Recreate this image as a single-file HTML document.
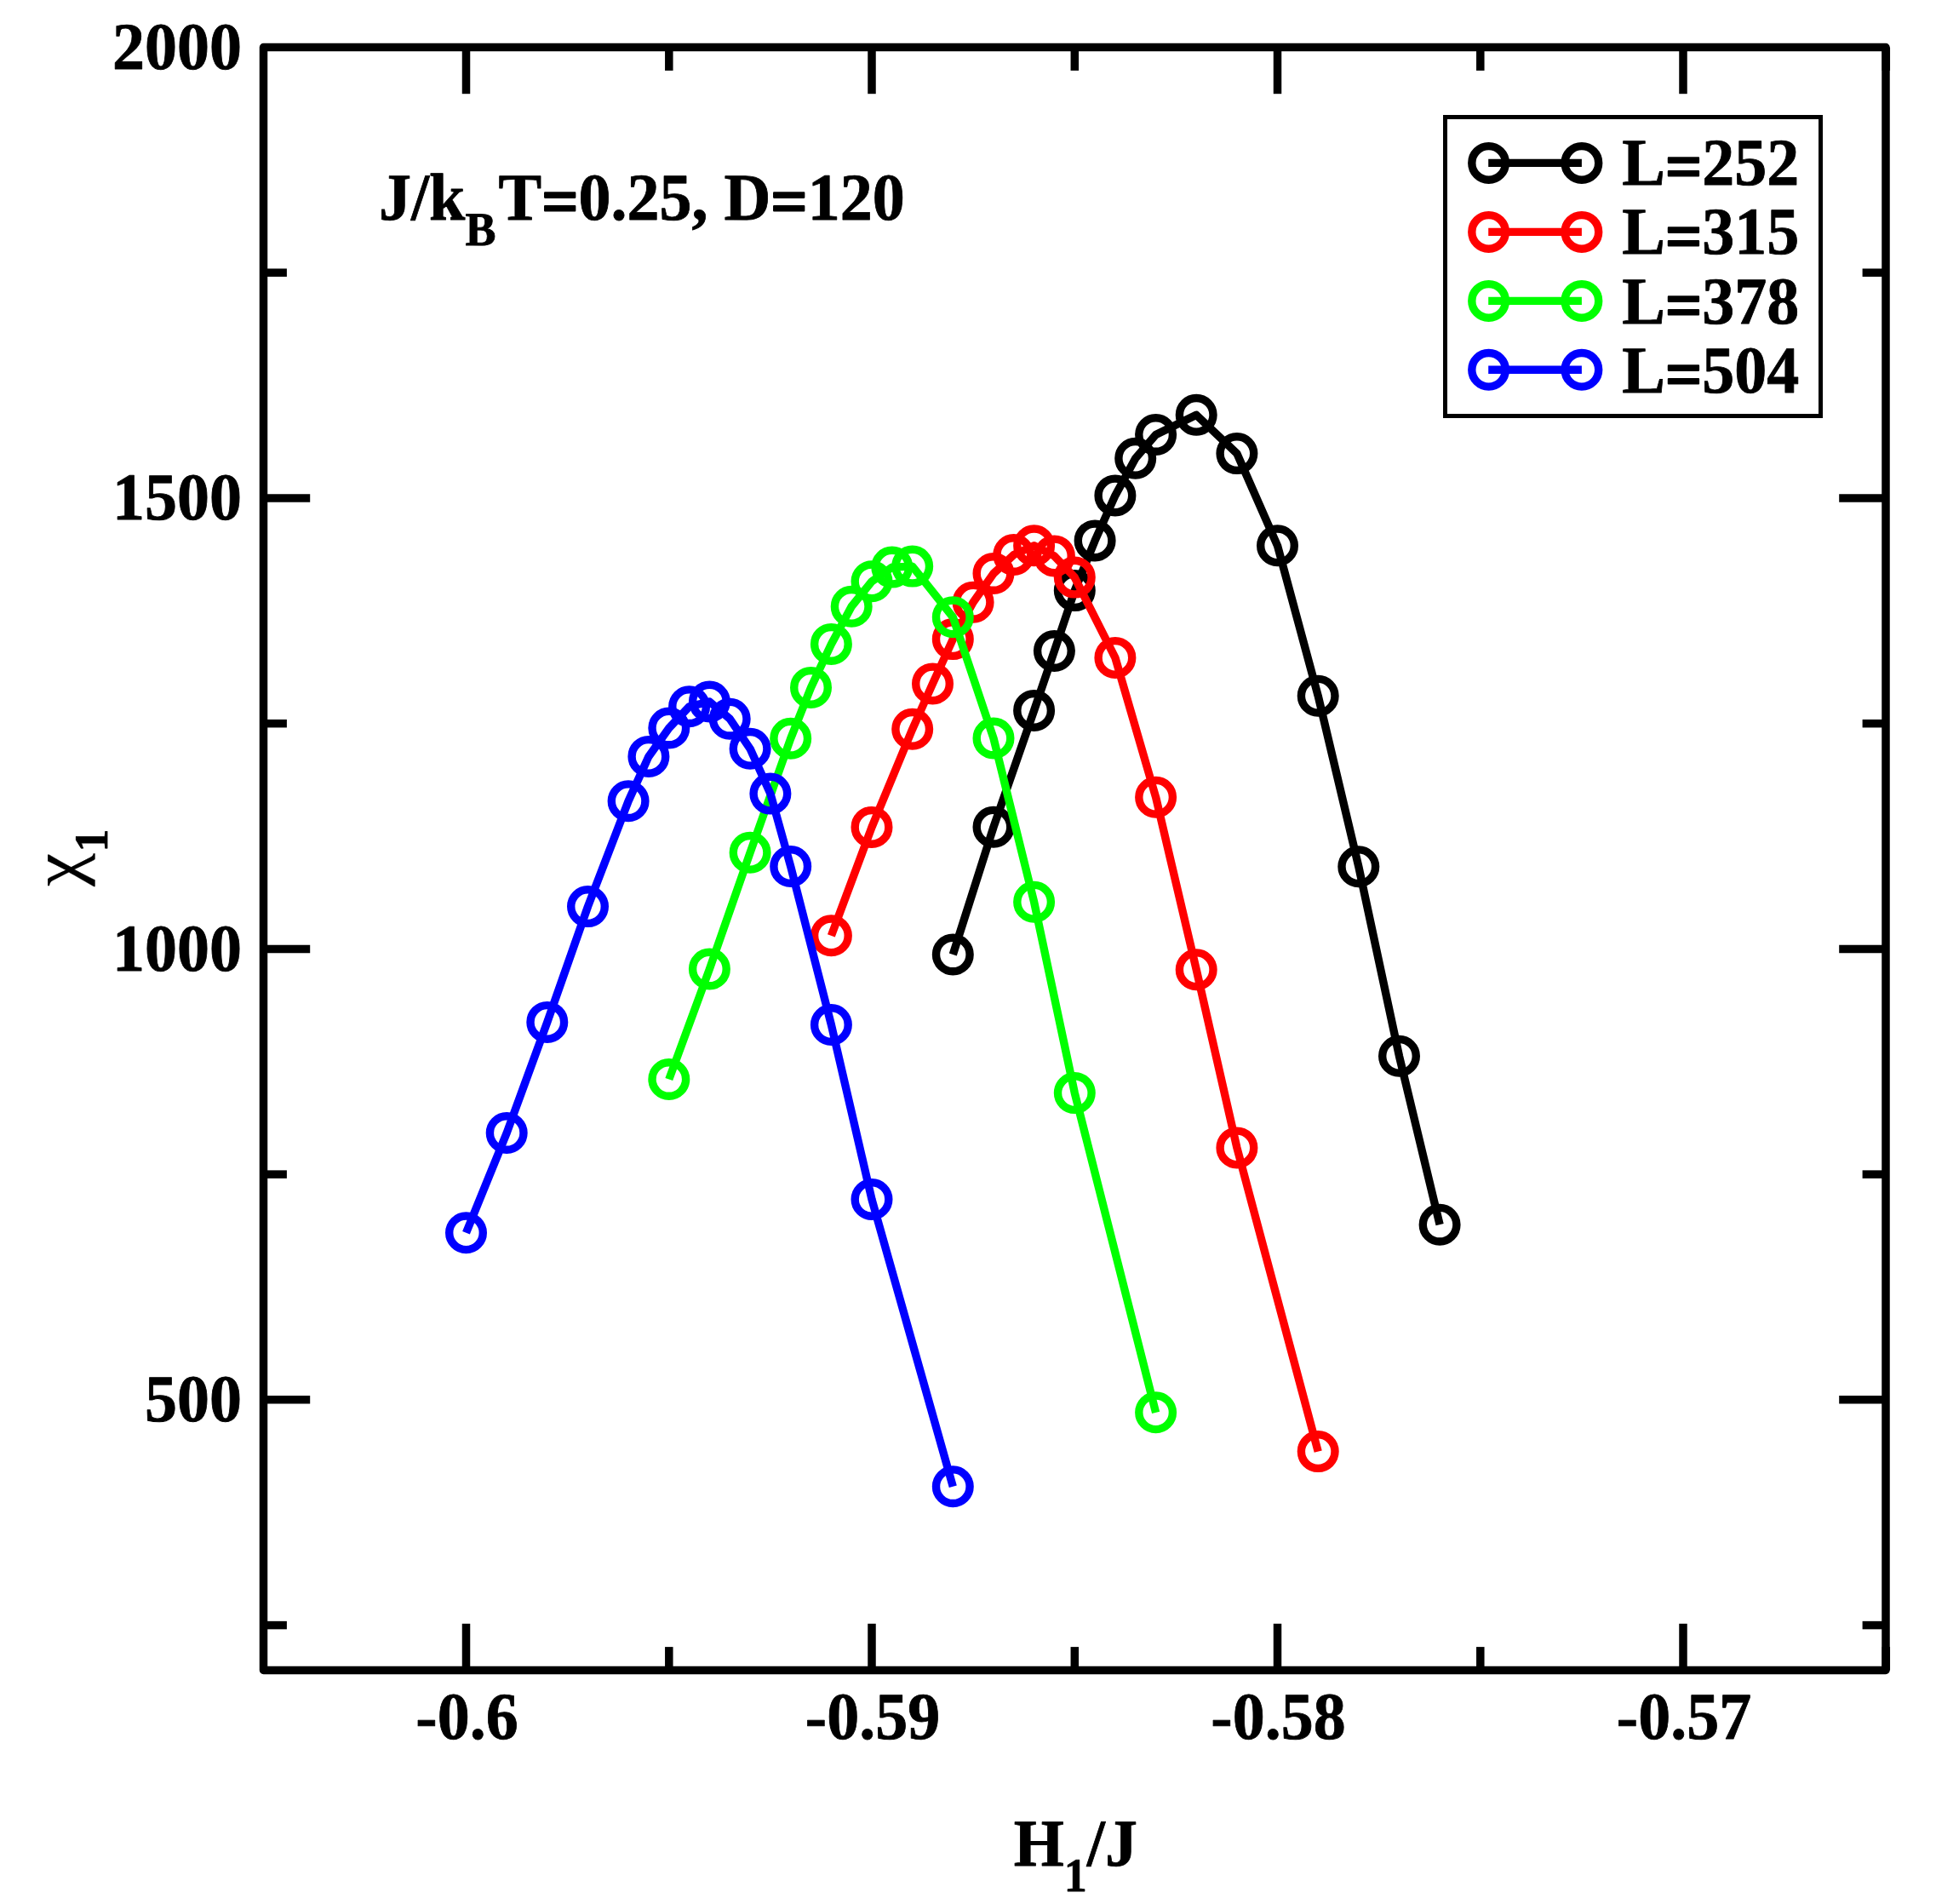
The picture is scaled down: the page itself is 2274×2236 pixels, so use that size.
<!DOCTYPE html>
<html lang="en"><head><meta charset="utf-8"><title>chi1 vs H1/J</title>
<style>html,body{margin:0;padding:0;background:#fff}svg{display:block}text{font-family:"Liberation Serif","DejaVu Serif",serif;font-weight:bold;font-size:76px;fill:#000;stroke:#000;stroke-width:0.8px;stroke-linejoin:round;text-rendering:geometricPrecision}.sub{font-size:54px}.sym{font-weight:normal;stroke-width:0.2px}</style></head><body>
<svg width="2274" height="2236" viewBox="0 0 2274 2236">
<rect x="0" y="0" width="2274" height="2236" fill="#ffffff"/>
<g fill="none" stroke="#000000" stroke-width="9.4" stroke-linejoin="round" stroke-linecap="butt">
<polyline points="1119.3,1121.0 1167.0,971.2 1214.6,834.4 1238.4,764.5 1262.3,693.6 1286.1,634.9 1309.9,581.9 1333.7,538.3 1357.6,510.5 1405.2,487.3 1452.9,532.6 1500.5,640.8 1548.2,817.2 1595.8,1017.7 1643.5,1240.3 1691.1,1438.2"/>
<circle cx="1119.3" cy="1121.0" r="19.8"/>
<circle cx="1167.0" cy="971.2" r="19.8"/>
<circle cx="1214.6" cy="834.4" r="19.8"/>
<circle cx="1238.4" cy="764.5" r="19.8"/>
<circle cx="1262.3" cy="693.6" r="19.8"/>
<circle cx="1286.1" cy="634.9" r="19.8"/>
<circle cx="1309.9" cy="581.9" r="19.8"/>
<circle cx="1333.7" cy="538.3" r="19.8"/>
<circle cx="1357.6" cy="510.5" r="19.8"/>
<circle cx="1405.2" cy="487.3" r="19.8"/>
<circle cx="1452.9" cy="532.6" r="19.8"/>
<circle cx="1500.5" cy="640.8" r="19.8"/>
<circle cx="1548.2" cy="817.2" r="19.8"/>
<circle cx="1595.8" cy="1017.7" r="19.8"/>
<circle cx="1643.5" cy="1240.3" r="19.8"/>
<circle cx="1691.1" cy="1438.2" r="19.8"/>
</g>
<g fill="none" stroke="#ff0000" stroke-width="9.4" stroke-linejoin="round" stroke-linecap="butt">
<polyline points="976.4,1098.8 1024.0,971.4 1071.7,856.3 1095.5,802.9 1119.3,750.6 1143.1,707.2 1167.0,673.5 1190.8,651.5 1214.6,640.8 1238.4,652.9 1262.3,678.1 1309.9,772.4 1357.6,936.2 1405.2,1138.7 1452.9,1347.9 1548.2,1704.6"/>
<circle cx="976.4" cy="1098.8" r="19.8"/>
<circle cx="1024.0" cy="971.4" r="19.8"/>
<circle cx="1071.7" cy="856.3" r="19.8"/>
<circle cx="1095.5" cy="802.9" r="19.8"/>
<circle cx="1119.3" cy="750.6" r="19.8"/>
<circle cx="1143.1" cy="707.2" r="19.8"/>
<circle cx="1167.0" cy="673.5" r="19.8"/>
<circle cx="1190.8" cy="651.5" r="19.8"/>
<circle cx="1214.6" cy="640.8" r="19.8"/>
<circle cx="1238.4" cy="652.9" r="19.8"/>
<circle cx="1262.3" cy="678.1" r="19.8"/>
<circle cx="1309.9" cy="772.4" r="19.8"/>
<circle cx="1357.6" cy="936.2" r="19.8"/>
<circle cx="1405.2" cy="1138.7" r="19.8"/>
<circle cx="1452.9" cy="1347.9" r="19.8"/>
<circle cx="1548.2" cy="1704.6" r="19.8"/>
</g>
<g fill="none" stroke="#00ff00" stroke-width="9.4" stroke-linejoin="round" stroke-linecap="butt">
<polyline points="785.8,1267.5 833.4,1138.0 881.1,1001.3 928.7,867.2 952.5,807.4 976.4,756.4 1000.2,712.3 1024.0,682.8 1047.8,666.1 1071.7,665.1 1119.3,724.8 1167.0,867.0 1214.6,1059.2 1262.3,1283.6 1357.6,1658.8"/>
<circle cx="785.8" cy="1267.5" r="19.8"/>
<circle cx="833.4" cy="1138.0" r="19.8"/>
<circle cx="881.1" cy="1001.3" r="19.8"/>
<circle cx="928.7" cy="867.2" r="19.8"/>
<circle cx="952.5" cy="807.4" r="19.8"/>
<circle cx="976.4" cy="756.4" r="19.8"/>
<circle cx="1000.2" cy="712.3" r="19.8"/>
<circle cx="1024.0" cy="682.8" r="19.8"/>
<circle cx="1047.8" cy="666.1" r="19.8"/>
<circle cx="1071.7" cy="665.1" r="19.8"/>
<circle cx="1119.3" cy="724.8" r="19.8"/>
<circle cx="1167.0" cy="867.0" r="19.8"/>
<circle cx="1214.6" cy="1059.2" r="19.8"/>
<circle cx="1262.3" cy="1283.6" r="19.8"/>
<circle cx="1357.6" cy="1658.8" r="19.8"/>
</g>
<g fill="none" stroke="#0000ff" stroke-width="9.4" stroke-linejoin="round" stroke-linecap="butt">
<polyline points="547.5,1447.8 595.2,1330.5 642.8,1200.4 690.5,1064.6 738.1,940.7 761.9,888.4 785.8,855.0 809.6,829.7 833.4,824.0 857.2,844.2 881.1,879.3 904.9,932.1 928.7,1017.5 976.4,1203.5 1024.0,1408.5 1119.3,1745.7"/>
<circle cx="547.5" cy="1447.8" r="19.8"/>
<circle cx="595.2" cy="1330.5" r="19.8"/>
<circle cx="642.8" cy="1200.4" r="19.8"/>
<circle cx="690.5" cy="1064.6" r="19.8"/>
<circle cx="738.1" cy="940.7" r="19.8"/>
<circle cx="761.9" cy="888.4" r="19.8"/>
<circle cx="785.8" cy="855.0" r="19.8"/>
<circle cx="809.6" cy="829.7" r="19.8"/>
<circle cx="833.4" cy="824.0" r="19.8"/>
<circle cx="857.2" cy="844.2" r="19.8"/>
<circle cx="881.1" cy="879.3" r="19.8"/>
<circle cx="904.9" cy="932.1" r="19.8"/>
<circle cx="928.7" cy="1017.5" r="19.8"/>
<circle cx="976.4" cy="1203.5" r="19.8"/>
<circle cx="1024.0" cy="1408.5" r="19.8"/>
<circle cx="1119.3" cy="1745.7" r="19.8"/>
</g>
<g stroke="#000" stroke-width="9.5" fill="none" stroke-linejoin="round">
<line x1="547.5" y1="55.5" x2="547.5" y2="110.2"/>
<line x1="547.5" y1="1961.5" x2="547.5" y2="1906.8"/>
<line x1="785.8" y1="55.5" x2="785.8" y2="82.9"/>
<line x1="785.8" y1="1961.5" x2="785.8" y2="1934.1"/>
<line x1="1024.0" y1="55.5" x2="1024.0" y2="110.2"/>
<line x1="1024.0" y1="1961.5" x2="1024.0" y2="1906.8"/>
<line x1="1262.3" y1="55.5" x2="1262.3" y2="82.9"/>
<line x1="1262.3" y1="1961.5" x2="1262.3" y2="1934.1"/>
<line x1="1500.5" y1="55.5" x2="1500.5" y2="110.2"/>
<line x1="1500.5" y1="1961.5" x2="1500.5" y2="1906.8"/>
<line x1="1738.8" y1="55.5" x2="1738.8" y2="82.9"/>
<line x1="1738.8" y1="1961.5" x2="1738.8" y2="1934.1"/>
<line x1="1977.0" y1="55.5" x2="1977.0" y2="110.2"/>
<line x1="1977.0" y1="1961.5" x2="1977.0" y2="1906.8"/>
<line x1="2215.3" y1="55.5" x2="2215.3" y2="82.9"/>
<line x1="2215.3" y1="1961.5" x2="2215.3" y2="1934.1"/>
<line x1="309.5" y1="1908.6" x2="336.9" y2="1908.6"/>
<line x1="2215.0" y1="1908.6" x2="2187.6" y2="1908.6"/>
<line x1="309.5" y1="1643.8" x2="364.2" y2="1643.8"/>
<line x1="2215.0" y1="1643.8" x2="2160.2" y2="1643.8"/>
<line x1="309.5" y1="1379.1" x2="336.9" y2="1379.1"/>
<line x1="2215.0" y1="1379.1" x2="2187.6" y2="1379.1"/>
<line x1="309.5" y1="1114.4" x2="364.2" y2="1114.4"/>
<line x1="2215.0" y1="1114.4" x2="2160.2" y2="1114.4"/>
<line x1="309.5" y1="849.7" x2="336.9" y2="849.7"/>
<line x1="2215.0" y1="849.7" x2="2187.6" y2="849.7"/>
<line x1="309.5" y1="584.9" x2="364.2" y2="584.9"/>
<line x1="2215.0" y1="584.9" x2="2160.2" y2="584.9"/>
<line x1="309.5" y1="320.2" x2="336.9" y2="320.2"/>
<line x1="2215.0" y1="320.2" x2="2187.6" y2="320.2"/>
<rect x="309.5" y="55.5" width="1905.5" height="1906.0"/>
</g>
<text transform="translate(284.0,1668.9) scale(1,1.032)" text-anchor="end">500</text>
<text transform="translate(284.0,1139.5) scale(1,1.032)" text-anchor="end">1000</text>
<text transform="translate(284.0,610.0) scale(1,1.032)" text-anchor="end">1500</text>
<text transform="translate(284.0,80.6) scale(1,1.032)" text-anchor="end">2000</text>
<text transform="translate(548.5,2041.6) scale(1,1.032)" text-anchor="middle">-0.6</text>
<text transform="translate(1025.0,2041.6) scale(1,1.032)" text-anchor="middle">-0.59</text>
<text transform="translate(1501.5,2041.6) scale(1,1.032)" text-anchor="middle">-0.58</text>
<text transform="translate(1978.0,2041.6) scale(1,1.032)" text-anchor="middle">-0.57</text>
<text transform="translate(1190.7,2191.0) scale(1,1.032)">H<tspan class="sub" dy="29">1</tspan><tspan dy="-29">/J</tspan></text>
<text class="sym" transform="translate(94.4,1041) rotate(-90) scale(1.16,1.086)">χ</text>
<text class="sub" transform="translate(125.8,1000.4) rotate(-90) scale(1,1.03)">1</text>
<text transform="translate(445.0,258.0) scale(1,1.032)">J/k<tspan class="sub" dy="29">B</tspan><tspan dy="-29" dx="3">T</tspan><tspan dy="5.2" stroke="#000" stroke-width="2">=</tspan><tspan dy="-5.2">0.25</tspan>, D<tspan dy="5.2" stroke="#000" stroke-width="2">=</tspan><tspan dy="-5.2">120</tspan></text>
<rect x="1697.5" y="137.5" width="441" height="351" fill="#fff" stroke="#000" stroke-width="5"/>
<g fill="none" stroke="#000000" stroke-width="9.4"><line x1="1748.2" y1="191.4" x2="1857.9" y2="191.4"/><circle cx="1748.6" cy="191.4" r="19.8"/><circle cx="1857.9" cy="191.4" r="19.8"/></g>
<text transform="translate(1905.3,216.9) scale(1,1.032)">L<tspan dy="5.2" stroke="#000" stroke-width="2">=</tspan><tspan dy="-5.2">252</tspan></text>
<g fill="none" stroke="#ff0000" stroke-width="9.4"><line x1="1748.2" y1="272.4" x2="1857.9" y2="272.4"/><circle cx="1748.6" cy="272.4" r="19.8"/><circle cx="1857.9" cy="272.4" r="19.8"/></g>
<text transform="translate(1905.3,298.2) scale(1,1.032)">L<tspan dy="5.2" stroke="#000" stroke-width="2">=</tspan><tspan dy="-5.2">315</tspan></text>
<g fill="none" stroke="#00ff00" stroke-width="9.4"><line x1="1748.2" y1="353.4" x2="1857.9" y2="353.4"/><circle cx="1748.6" cy="353.4" r="19.8"/><circle cx="1857.9" cy="353.4" r="19.8"/></g>
<text transform="translate(1905.3,379.6) scale(1,1.032)">L<tspan dy="5.2" stroke="#000" stroke-width="2">=</tspan><tspan dy="-5.2">378</tspan></text>
<g fill="none" stroke="#0000ff" stroke-width="9.4"><line x1="1748.2" y1="434.3" x2="1857.9" y2="434.3"/><circle cx="1748.6" cy="434.3" r="19.8"/><circle cx="1857.9" cy="434.3" r="19.8"/></g>
<text transform="translate(1905.3,460.9) scale(1,1.032)">L<tspan dy="5.2" stroke="#000" stroke-width="2">=</tspan><tspan dy="-5.2">504</tspan></text>
</svg></body></html>
